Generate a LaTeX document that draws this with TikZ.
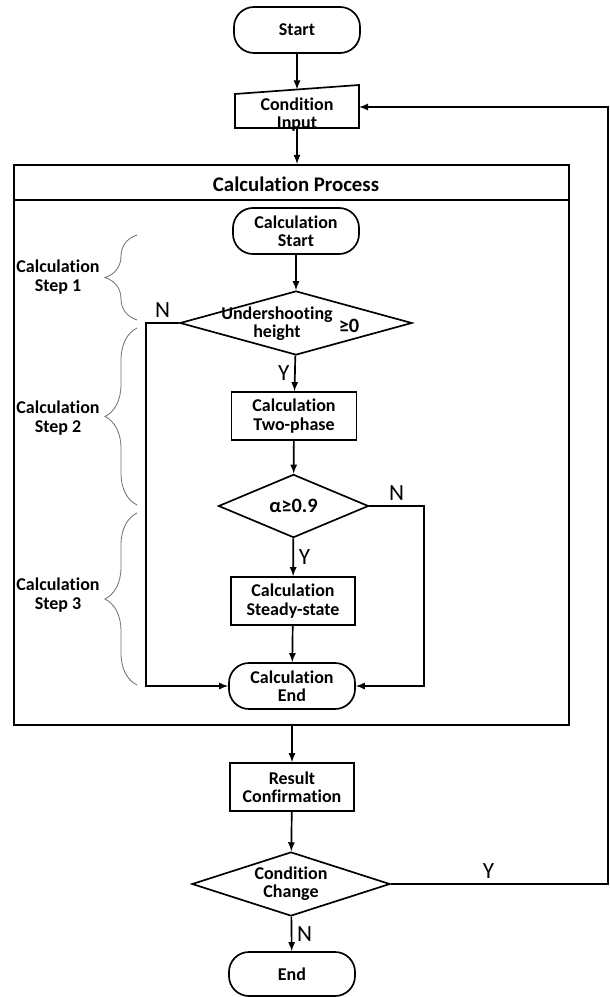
\documentclass[tikz,border=0pt]{standalone}
\usepackage{fontspec}
\setmainfont{Carlito}[Ligatures=NoCommon]
\usetikzlibrary{arrows,shapes.geometric,decorations.pathreplacing}
\tikzset{
  boxfont/.style={font=\fontsize{12.8}{13}\selectfont\bfseries},
  term/.style={draw,line width=1.2pt,rounded corners=0.5cm,minimum width=3.15cm,minimum height=1.15cm,align=center,boxfont},
  proc/.style={draw,line width=1.2pt,minimum width=3.1cm,minimum height=1.2cm,align=center,boxfont},
  decide/.style={draw,diamond,line width=1.2pt,inner sep=0pt,align=center,boxfont},
  arr/.style={line width=1.2pt,-latex},
  yn/.style={font=\fontsize{16.5}{16.5}\selectfont},
  steptxt/.style={align=center,boxfont},
  grp/.style={draw=black!55,line width=0.6pt,decorate,decoration={brace,amplitude=0.8cm}}
}
\begin{document}
\begin{tikzpicture}[x=0.025cm,y=-0.025cm]
   \useasboundingbox (0,0) rectangle (610,997);
   % outside the calculation block
   \node (start) [term] at (297,30) {Start};
   \node (input) [align=center,boxfont] at (297,114.5) {Condition\\Input};
   \draw [line width=1.2pt,shift={(input.center)}] (-62,13.5) -- (-62,-20.5) -- (62,-29.5) -- (62,13.5) -- cycle;
   \coordinate (intop) at (297,89.5);
   \coordinate (inright) at (359,107);
   \node (frame) [draw,line width=1.4pt,minimum width=13.85cm,minimum height=14cm] at (291.5,445) {};
   \node (title) [font=\fontsize{14.8}{16}\selectfont\bfseries] at (296,184) {Calculation Process};
   \draw [line width=1pt] (frame.west |- 0,200) -- (frame.east |- 0,200);
   % inside
   \node (cstart) [term] at (296,231) {Calculation\\Start};
   \node (under) [decide,aspect=3.6,minimum width=5.8cm,minimum height=1.6cm] at (296,323) {};
   \node (undertxt) [boxfont,align=center] at (277,324) {Undershooting\\height};
   \node (undergeq) [font=\fontsize{14.5}{15}\selectfont\bfseries] at (349,326) {≥0};
   \node (two) [proc,minimum width=3.125cm] at (294,416) {Calculation\\Two-phase};
   \node (alpha) [decide,aspect=2.4,minimum width=3.75cm,minimum height=1.58cm,font=\fontsize{14.5}{15}\selectfont\bfseries] at (293.5,506) {α≥0.9};
   \node (steady) [proc] at (293,601) {Calculation\\Steady-state};
   \node (cend) [term] at (292,686) {Calculation\\End};
   \coordinate (nleft) at (146,323);
   \coordinate (nright) at (424,506);
   % step braces
   \draw [grp] (137,320) -- (137,235);
   \draw [grp] (137,505) -- (137,328);
   \draw [grp] (137,685) -- (137,513);
   \node (step1) [steptxt] at (58,277) {Calculation\\Step 1};
   \node (step2) [steptxt] at (58,418) {Calculation\\Step 2};
   \node (step3) [steptxt] at (58,595) {Calculation\\Step 3};
   % after
   \node (result) [proc] at (292,787) {Result\\Confirmation};
   \node (change) [decide,aspect=3.1,minimum width=4.95cm,minimum height=1.6cm] at (291,884) {Condition\\Change};
   \node (endnode) [term,minimum height=1.1cm] at (292,974) {End};
   \coordinate (loop) at (608,884);
   % connectors
   \draw [arr] (start) -- (intop);
   \draw [arr] (input.south |- 0,128) -- (input.south |- frame.north);
   \draw [arr] (cstart) -- (under);
   \draw [arr] (under) -- node [yn,left] {Y} (two);
   \draw [arr] (under.west) -- node [yn,above] {N} (nleft) |- (cend.west);
   \draw [arr] (two) -- (alpha);
   \draw [arr] (alpha) -- node [yn,right] {Y} (steady);
   \draw [arr] (alpha.east) -- node [yn,above] {N} (nright) |- (cend.east);
   \draw [arr] (steady) -- (cend);
   \draw [arr] (result.north |- frame.south) -- (result);
   \draw [arr] (result) -- (change);
   \draw [arr] (change) -- node [yn,right] {N} (endnode);
   \draw [arr] (change.east) -- node [yn,above,pos=0.45] {Y} (loop) |- (inright);
\end{tikzpicture}
\end{document}
